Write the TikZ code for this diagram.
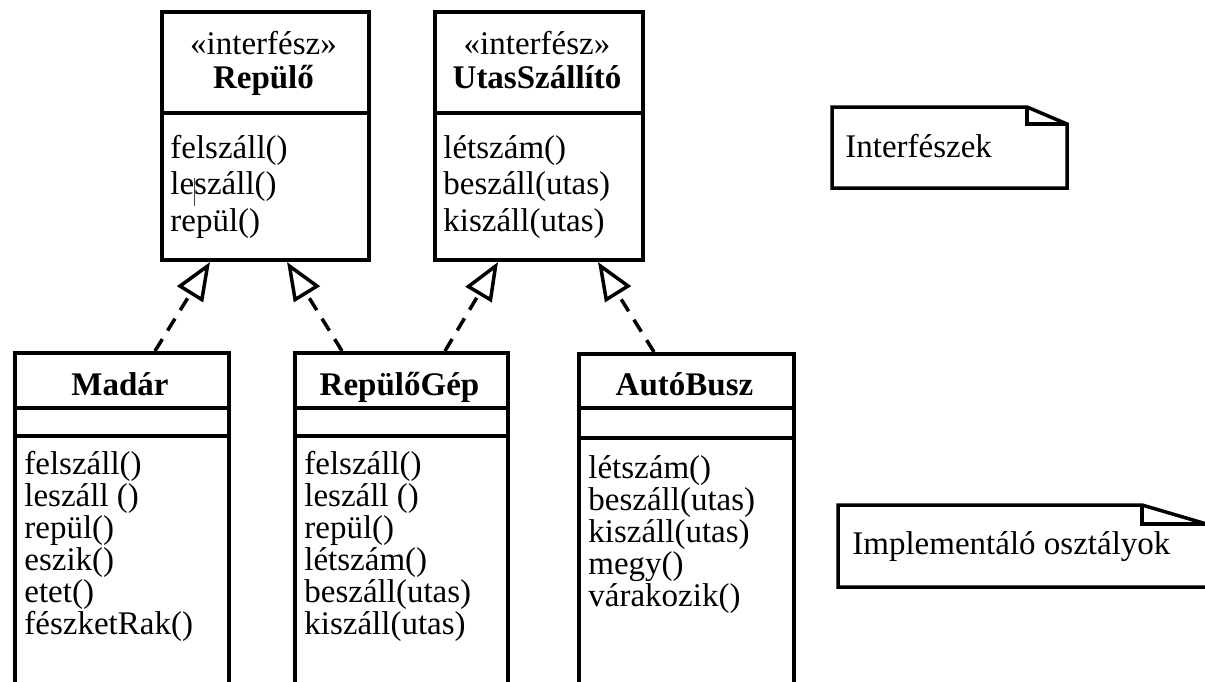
\documentclass[tikz,border=0pt]{standalone}
\usepackage{fontspec}
\setmainfont{Liberation Serif}
\usetikzlibrary{arrows.meta,calc}
\begin{document}
\begin{tikzpicture}[x=0.5pt,y=-0.5pt,
  box/.style={draw,line width=2pt,rectangle,anchor=north west,inner sep=0pt},
  divline/.style={line width=2pt},
  txt/.style={anchor=base west,inner sep=0pt,font=\fontsize{16.5pt}{18pt}\selectfont},
  ttl/.style={anchor=base,inner sep=0pt,font=\fontsize{16.5pt}{18pt}\selectfont},
  notebox/.style={draw,line width=1.75pt,line join=miter},
  impl/.style={line width=1.75pt,dash pattern=on 7pt off 5pt,
    -{Triangle[open,length=19pt,width=15pt,line width=1.75pt]}},
]
\useasboundingbox (0,0) rectangle (1205,681);

% ---------- interfaces ----------
\node[box,minimum width=103.5pt,minimum height=124pt] (repulo) at (160,10) {};
\draw[divline] ($(repulo.north west)+(0,103)$) -- ($(repulo.north east)+(0,103)$);
\node[ttl] (repst) at (263.5,54) {«interfész»};
\node[ttl] (repnm) at (263.5,88) {\textbf{Repülő}};
\node[txt] (rep1) at (170,158) {felszáll()};
\node[txt] (rep2) at (170,194) {leszáll()};
\node[txt] (rep3) at (170,231) {repül()};
\draw[line width=0.4pt,black!75] (194,178) -- (194,206);

\node[box,minimum width=104pt,minimum height=124pt] (utas) at (433,10) {};
\draw[divline] ($(utas.north west)+(0,103)$) -- ($(utas.north east)+(0,103)$);
\node[ttl] (utasst) at (537,54) {«interfész»};
\node[ttl] (utasnm) at (537,88) {\textbf{UtasSzállító}};
\node[txt] (utas1) at (443,158) {létszám()};
\node[txt] (utas2) at (443,194) {beszáll(utas)};
\node[txt] (utas3) at (443,231) {kiszáll(utas)};

% ---------- classes ----------
\node[box,minimum width=107pt,minimum height=175pt] (madar) at (13,351) {};
\draw[divline] ($(madar.north west)+(0,57)$) -- ($(madar.north east)+(0,57)$);
\draw[divline] ($(madar.north west)+(0,85)$) -- ($(madar.north east)+(0,85)$);
\node[ttl] (madarnm) at (120,395) {\textbf{Madár}};
\node[txt] (m1) at (24,474) {felszáll()};
\node[txt] (m2) at (24,506) {leszáll ()};
\node[txt] (m3) at (24,538) {repül()};
\node[txt] (m4) at (24,570) {eszik()};
\node[txt] (m5) at (24,602) {etet()};
\node[txt] (m6) at (24,634) {fészketRak()};

\node[box,minimum width=106.5pt,minimum height=175pt] (gep) at (293,351) {};
\draw[divline] ($(gep.north west)+(0,57)$) -- ($(gep.north east)+(0,57)$);
\draw[divline] ($(gep.north west)+(0,85)$) -- ($(gep.north east)+(0,85)$);
\node[ttl] (gepnm) at (399.5,395) {\textbf{RepülőGép}};
\node[txt] (g1) at (304,474) {felszáll()};
\node[txt] (g2) at (304,506) {leszáll ()};
\node[txt] (g3) at (304,538) {repül()};
\node[txt] (g4) at (304,570) {létszám()};
\node[txt] (g5) at (304,602) {beszáll(utas)};
\node[txt] (g6) at (304,634) {kiszáll(utas)};

\node[box,minimum width=107.5pt,minimum height=175pt] (busz) at (577,352) {};
\draw[divline] ($(busz.north west)+(0,56)$) -- ($(busz.north east)+(0,56)$);
\draw[divline] ($(busz.north west)+(0,86)$) -- ($(busz.north east)+(0,86)$);
\node[ttl] (busznm) at (684.5,395) {\textbf{AutóBusz}};
\node[txt] (b1) at (588,478) {létszám()};
\node[txt] (b2) at (588,510) {beszáll(utas)};
\node[txt] (b3) at (588,542) {kiszáll(utas)};
\node[txt] (b4) at (588,574) {megy()};
\node[txt] (b5) at (588,606) {várakozik()};

% ---------- realizations ----------
\draw[impl] ($(madar.north west)+(142,0)$) -- ($(repulo.south west)+(50,0)$);
\draw[impl] ($(gep.north west)+(49,0)$) -- ($(repulo.south west)+(127,0)$);
\draw[impl] ($(gep.north west)+(152,0)$) -- ($(utas.south west)+(65,0)$);
\draw[impl] ($(busz.north west)+(77,0)$) -- ($(utas.south west)+(165,0)$);

% ---------- notes ----------
\draw[notebox] (832,107) -- (1027,107) -- (1067,124) -- (1067,188) -- (832,188) -- cycle;
\draw[notebox] (1027,107) -- (1027,124) -- (1067,124);
\node[txt] (n1) at (845,157) {Interfészek};

\draw[notebox] (838,505) -- (1142,505) -- (1210,525) -- (1210,587) -- (838,587) -- cycle;
\draw[notebox] (1142,505) -- (1142,524) -- (1210,524);
\node[txt] (n2) at (852,554) {Implementáló osztályok};
\end{tikzpicture}
\end{document}
